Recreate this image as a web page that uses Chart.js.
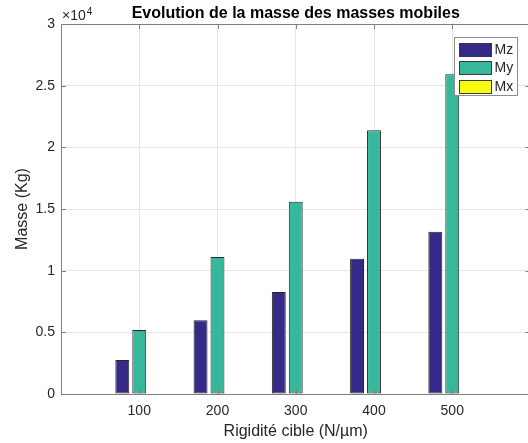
<!DOCTYPE html>
<html>
<head>
<meta charset="utf-8">
<script src="https://cdn.jsdelivr.net/npm/chart.js@4"></script>
<style>
    html, body { margin: 0; padding: 0; overflow: hidden; background: #fff; width: 528px; height: 443px; }
    #clip { width: 528px; height: 443px; overflow: hidden; position: relative; }
    #myChart { display: block; position: absolute; left: 0; top: 0; }
</style>
</head>
<body>
<div id="clip"><canvas id="myChart" width="534" height="443"></canvas></div>
<script>
// Data
const rigidite = [100, 200, 300, 400, 500];
const massesMz = [2760, 5980, 8270, 10970, 13160];
const massesMy = [5195, 11110, 15590, 21380, 25920];
const massesMx = [0, 0, 0, 0, 0];
const seriesNames = ['Mz', 'My', 'Mx'];

const textColor = '#262626';
const axisColor = '#808080';
const gridColor = '#e6e6e6';
const fontFamily = '"Liberation Sans", Arial, Helvetica, sans-serif';

function toPoints(values) {
    return rigidite.map((r, i) => ({ x: r, y: values[i] }));
}

// Inward ticks, box on, legend and x10^4 factor like a MATLAB figure
const matlabAxes = {
    id: 'matlabAxes',
    afterDatasetsDraw(chart) {
        const { ctx, chartArea: a, scales: { x, y } } = chart;
        ctx.save();
        ctx.strokeStyle = axisColor;
        ctx.lineWidth = 1;
        ctx.beginPath();
        x.ticks.forEach(t => {
            const px = Math.round(x.getPixelForValue(t.value)) + 0.5;
            ctx.moveTo(px, a.bottom);
            ctx.lineTo(px, a.bottom - 5);
            ctx.moveTo(px, a.top);
            ctx.lineTo(px, a.top + 5);
        });
        y.ticks.forEach(t => {
            const py = Math.round(y.getPixelForValue(t.value)) + 0.5;
            ctx.moveTo(a.left, py);
            ctx.lineTo(a.left + 5, py);
            ctx.moveTo(a.right, py);
            ctx.lineTo(a.right - 5, py);
        });
        ctx.moveTo(a.left, Math.round(a.top) + 0.5);
        ctx.lineTo(a.right, Math.round(a.top) + 0.5);
        ctx.moveTo(Math.round(a.right) - 0.5, a.top);
        ctx.lineTo(Math.round(a.right) - 0.5, a.bottom);
        ctx.stroke();
        ctx.restore();
    },
    afterDraw(chart) {
        const { ctx, chartArea: a } = chart;
        ctx.save();

        // exponent label
        ctx.fillStyle = textColor;
        ctx.textBaseline = 'alphabetic';
        ctx.textAlign = 'left';
        ctx.font = '14px ' + fontFamily;
        ctx.fillText('\u00d710', a.left + 1, 20);
        const w = ctx.measureText('\u00d710').width;
        ctx.font = '10px ' + fontFamily;
        ctx.fillText('4', a.left + 1 + w + 1, 15);

        // legend
        const bx = Math.round(a.right - 77) + 0.5, by = Math.round(a.top + 13) + 0.5;
        const bw = 63, bh = 58;
        ctx.fillStyle = '#ffffff';
        ctx.fillRect(bx, by, bw, bh);
        ctx.strokeStyle = '#8c8c8c';
        ctx.lineWidth = 1;
        ctx.strokeRect(bx, by, bw, bh);
        ctx.font = '14px ' + fontFamily;
        ctx.textBaseline = 'middle';
        chart.data.datasets.forEach((ds, i) => {
            const sy = Math.round(by + 5 + i * 18.5);
            ctx.fillStyle = ds.backgroundColor;
            ctx.fillRect(bx + 5, sy + 0.5, 32, 13);
            ctx.strokeStyle = '#3a3a3a';
            ctx.strokeRect(bx + 5, sy + 0.5, 32, 13);
            ctx.fillStyle = textColor;
            ctx.fillText(ds.label, bx + 40, sy + 7.5);
        });
        ctx.restore();
    }
};

const ctx = document.getElementById('myChart').getContext('2d');
const myChart = new Chart(ctx, {
    type: 'bar',
    data: {
        datasets: [
            {
                label: seriesNames[0],
                data: toPoints(massesMz),
                backgroundColor: '#352a87',
                borderColor: '#262626',
                borderWidth: 1,
                borderSkipped: false
            },
            {
                label: seriesNames[1],
                data: toPoints(massesMy),
                backgroundColor: '#37b89d',
                borderColor: '#262626',
                borderWidth: 1,
                borderSkipped: false
            },
            {
                label: seriesNames[2],
                data: toPoints(massesMx),
                backgroundColor: '#f9fb0e',
                borderColor: '#262626',
                borderWidth: 1,
                borderSkipped: false
            }
        ]
    },
    options: {
        responsive: false,
        animation: false,
        events: [],
        categoryPercentage: 0.65,
        barPercentage: 0.82,
        layout: { padding: { left: 0, right: 3.5, top: 0, bottom: 0 } },
        scales: {
            x: {
                type: 'linear',
                min: 0,
                max: 600,
                offset: false,
                afterFit: s => { s.height = 49; },
                ticks: {
                    stepSize: 100,
                    padding: 0,
                    color: textColor,
                    font: { family: fontFamily, size: 14 },
                    callback: v => (v === 0 || v === 600) ? '' : String(v)
                },
                grid: {
                    offset: false,
                    color: gridColor,
                    drawTicks: true,
                    tickLength: 9,
                    tickColor: 'rgba(0,0,0,0)'
                },
                border: { display: true, color: axisColor, width: 1 },
                title: {
                    display: true,
                    text: 'Rigidité cible (N/µm)',
                    color: textColor,
                    font: { family: fontFamily, size: 16, lineHeight: 1.2 },
                    padding: { top: 0, bottom: 2 }
                }
            },
            y: {
                min: 0,
                max: 30000,
                afterFit: s => { s.width = 61; },
                ticks: {
                    stepSize: 5000,
                    padding: 6,
                    color: textColor,
                    font: { family: fontFamily, size: 14 },
                    callback: v => String(v / 10000)
                },
                grid: {
                    color: gridColor,
                    drawTicks: false
                },
                border: { display: true, color: axisColor, width: 1 },
                title: {
                    display: true,
                    text: 'Masse (Kg)',
                    color: textColor,
                    font: { family: fontFamily, size: 16, lineHeight: 1.2 },
                    padding: { top: 13, bottom: 0 }
                }
            }
        },
        plugins: {
            title: {
                display: true,
                fullSize: false,
                text: 'Evolution de la masse des masses mobiles',
                color: '#000000',
                font: { family: fontFamily, size: 16, weight: 'bold', lineHeight: 1.125 },
                padding: { top: 5, bottom: 1 }
            },
            legend: { display: false },
            tooltip: { enabled: false }
        }
    },
    plugins: [matlabAxes]
});
</script>
</body>
</html>
